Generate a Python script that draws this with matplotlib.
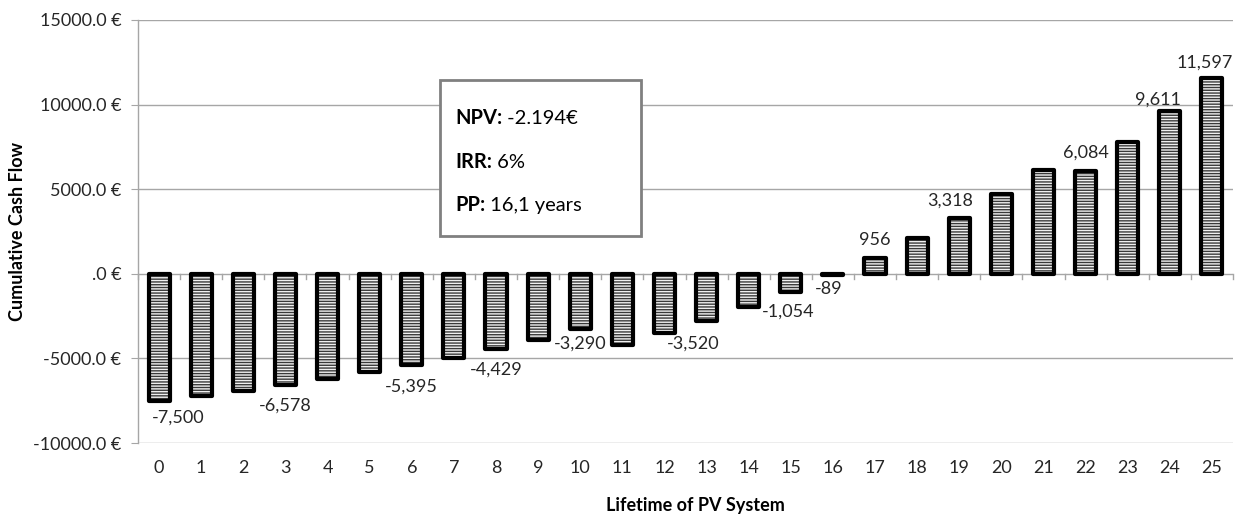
import matplotlib
matplotlib.use("Agg")
import matplotlib.pyplot as plt
import numpy as np

years = list(range(26))
cash_flow = [-7500, -7220, -6950, -6578, -6200, -5810, -5395, -4960, -4429, -3900,
             -3290, -4230, -3520, -2790, -1950, -1054, -89, 956, 2140, 3318,
             4700, 6150, 6084, 7800, 9611, 11597]
labeled = [0, 3, 6, 8, 10, 12, 15, 16, 17, 19, 22, 24, 25]
y_ticks = [-10000, -5000, 0, 5000, 10000, 15000]
y_tick_labels = ["-10000.0 €", "-5000.0 €", ".0 €", "5000.0 €", "10000.0 €", "15000.0 €"]
info_bold = ["NPV:", "IRR:", "PP:"]
info_rest = [" -2.194€", " 6%", " 16,1 years"]

# label placement nudges (pixels: sideways shift, distance from bar end to label centre)
label_nudge = {0: (19, 16.5), 3: (0, 20.5), 6: (0, 22), 8: (0, 21), 10: (0, 14.5),
               12: (29, 10.5), 15: (-3, 20), 16: (-4, 13.5), 17: (0, 18),
               19: (-9, 17), 22: (0, 18.5), 24: (-12, 11.5), 25: (-7, 14.5)}

FONT = "Lato"
plt.rcParams['font.family'] = [FONT, 'DejaVu Sans']
plt.rcParams['hatch.linewidth'] = 1.0

fig = plt.figure(figsize=(12.4, 5.18), dpi=100)
ax = fig.add_axes([138/1240, 1-443/518, (1233-138)/1240, (443-20)/518])

grid_c = '#a6a6a6'
txt_c = '#262626'
ax.set_ylim(-10000, 15000)
ax.set_xlim(-0.5, 25.5)
for yt in y_ticks:
    ax.axhline(yt, color=grid_c, lw=1.0, zorder=0)

# hatched fill
ax.bar(years, cash_flow, width=0.5, facecolor='#f0f0f0', edgecolor='#3a3a3a',
       hatch='-'*6, linewidth=0, zorder=2)
# thick black outline
ax.bar(years, cash_flow, width=0.5, fill=False, edgecolor='black',
       linewidth=3.0, zorder=3, joinstyle='round')

# zero axis with ticks between categories
for b in np.arange(-0.5, 26, 1.0):
    ax.plot([b, b], [0, -300], color=grid_c, lw=1.0, zorder=1, clip_on=False)

px2pt = 72 / 100
for i in labeled:
    v = cash_flow[i]
    txt = f"{v:,}"
    dx, gap = label_nudge.get(i, (0, 16))
    dy = -gap if v < 0 else gap
    ax.annotate(txt, (years[i], v), xytext=(dx * px2pt, dy * px2pt),
                textcoords='offset points', ha='center', va='center',
                fontsize=13, color=txt_c, zorder=4)

ax.set_yticks(y_ticks)
ax.set_yticklabels(y_tick_labels, fontsize=13, color=txt_c)
ax.set_xticks(years)
ax.set_xticklabels([str(y) for y in years], fontsize=13, color=txt_c)
ax.tick_params(axis='x', length=0, pad=12)
ax.tick_params(axis='y', length=5, color=grid_c, pad=7)
for s in ['top', 'right']:
    ax.spines[s].set_visible(False)
ax.spines['bottom'].set_visible(False)
ax.spines['left'].set_color(grid_c)
ax.spines['left'].set_linewidth(1.0)

fig.text(18/1240, 1-231/518, "Cumulative Cash Flow", rotation=90, ha='center', va='center',
         fontsize=13, fontweight='bold', color='black')
fig.text(695/1240, 1-505/518, "Lifetime of PV System", ha='center', va='center',
         fontsize=13, fontweight='bold', color='black')

# info box
box = plt.Rectangle((440/1240, 1-236/518), (641-440)/1240, (236-80)/518,
                    transform=fig.transFigure, facecolor='white', edgecolor='#808080',
                    linewidth=2, zorder=5)
fig.add_artist(box)
renderer = fig.canvas.get_renderer()
line_y = [118, 162, 205]
for b, r, yy in zip(info_bold, info_rest, line_y):
    t = fig.text(455/1240, 1-yy/518, b, ha='left', va='center', fontsize=14.5,
                 fontweight='bold', color='black', zorder=6)
    bb = t.get_window_extent(renderer)
    fig.text(bb.x1/1240, 1-yy/518, r, ha='left', va='center', fontsize=14.5,
             color='black', zorder=6)

fig.savefig("out.png", dpi=100)
